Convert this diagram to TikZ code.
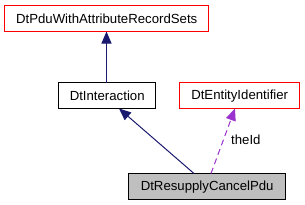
\documentclass[tikz,border=0pt]{standalone}
\usepackage{fontspec}
\setmainfont{Liberation Sans}
\usetikzlibrary{arrows.meta}
\definecolor{navy}{HTML}{191970}
\definecolor{orchid}{HTML}{9A32CD}
\definecolor{boxgray}{HTML}{BFBFBF}
\definecolor{boxred}{HTML}{FF0000}
\begin{document}
\begin{tikzpicture}[x=1bp,y=-1bp,
  lbl/.style={inner sep=0pt, font=\fontsize{13.2bp}{15bp}\selectfont, text=black, anchor=north west},
  border/.style={line width=1bp},
  inh/.style={draw=navy, line width=1bp, -{Triangle[length=12bp,width=10bp,fill=navy]}},
  mem/.style={draw=orchid, line width=1bp, dash pattern=on 6bp off 4bp, -{Triangle[length=12bp,width=10bp,fill=orchid]}}]
\fill[white] (0,0) rectangle (305,205);
\useasboundingbox (0,0) rectangle (305,205);
\node[lbl, minimum width=204bp, minimum height=26bp] (pdu) at (4.5,5.5) {DtPduWithAttributeRecordSets};
\node[lbl, minimum width=97bp, minimum height=26bp] (int) at (58.5,82.5) {DtInteraction};
\node[lbl, minimum width=120bp, minimum height=26bp] (ent) at (179.5,82.5) {DtEntityIdentifier};
\node[lbl, fill=boxgray, minimum width=157bp, minimum height=26bp] (res) at (128.5,173.5) {DtResupplyCancelPdu};
\draw[border, draw=boxred] (pdu.north west) rectangle (pdu.south east);
\draw[border, draw=black] (int.north west) rectangle (int.south east);
\draw[border, draw=boxred] (ent.north west) rectangle (ent.south east);
\draw[border, draw=black] (res.north west) rectangle (res.south east);
\coordinate (a1) at (106.5,82.5);
\coordinate (a2) at (106.5,31.5);
\draw[inh] (a1) -- (a2);
\coordinate (b1) at (194,173.5);
\coordinate (b2) at (119,108.5);
\draw[inh] (b1) -- (b2);
\coordinate (c1) at (211,173.5);
\coordinate (c2) at (235,108.5);
\draw[mem] (c1) -- (c2);
\node[font=\fontsize{13.2bp}{15bp}\selectfont, anchor=west, inner sep=0pt] (theid) at (231,140) {theId};
\end{tikzpicture}
\end{document}
